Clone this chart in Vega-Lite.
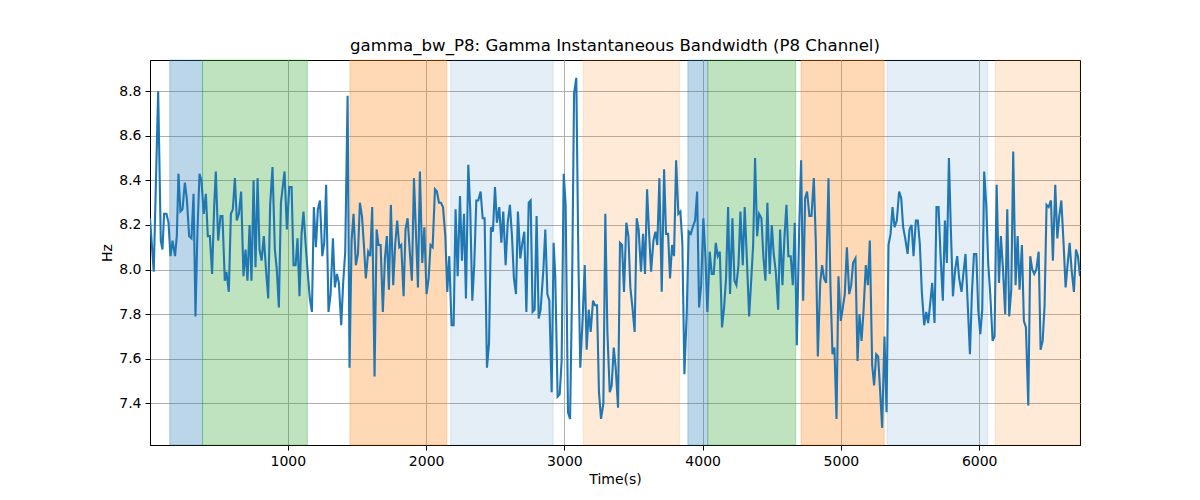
{
  "$schema": "https://vega.github.io/schema/vega-lite/v6.json",
  "width": 930,
  "height": 385,
  "autosize": {"type": "none"},
  "padding": {"left": 150, "top": 60, "right": 120, "bottom": 55},
  "background": "white",
  "config": {
    "font": "DejaVu Sans",
    "view": {"stroke": "black", "strokeWidth": 1},
    "axis": {
      "labelFont": "DejaVu Sans",
      "labelFontSize": 14,
      "labelColor": "black",
      "titleFont": "DejaVu Sans",
      "titleFontSize": 14,
      "titleFontWeight": "normal",
      "titleColor": "black",
      "tickColor": "black",
      "tickSize": 5,
      "tickWidth": 1,
      "domainColor": "black",
      "domainWidth": 1,
      "gridColor": "#b0b0b0",
      "gridWidth": 1,
      "labelPadding": 4
    }
  },
  "title": {
    "text": "gamma_bw_P8: Gamma Instantaneous Bandwidth (P8 Channel)",
    "font": "DejaVu Sans",
    "fontSize": 16.6,
    "fontWeight": "normal",
    "color": "black",
    "anchor": "middle",
    "offset": 5
  },
  "datasets": {
    "bands": [
      {"start": 146, "end": 383, "phase": "1"},
      {"start": 383, "end": 1141, "phase": "2"},
      {"start": 1449, "end": 2149, "phase": "3"},
      {"start": 2178, "end": 2919, "phase": "4"},
      {"start": 3136, "end": 3832, "phase": "5"},
      {"start": 3893, "end": 4037, "phase": "1"},
      {"start": 4037, "end": 4673, "phase": "2"},
      {"start": 4712, "end": 5313, "phase": "3"},
      {"start": 5333, "end": 6062, "phase": "4"},
      {"start": 6116, "end": 6729, "phase": "5"}
    ],
    "series": [
      {"t": 3, "hz": 8.23}, {"t": 30, "hz": 7.99}, {"t": 62, "hz": 8.8}, {"t": 81, "hz": 8.13},
      {"t": 93, "hz": 8.09}, {"t": 105, "hz": 8.25}, {"t": 122, "hz": 8.25}, {"t": 137, "hz": 8.21},
      {"t": 151, "hz": 8.06}, {"t": 166, "hz": 8.13}, {"t": 184, "hz": 8.06}, {"t": 197, "hz": 8.15},
      {"t": 209, "hz": 8.43}, {"t": 223, "hz": 8.26}, {"t": 238, "hz": 8.27}, {"t": 255, "hz": 8.39},
      {"t": 269, "hz": 8.32}, {"t": 286, "hz": 8.15}, {"t": 303, "hz": 8.14}, {"t": 318, "hz": 8.34},
      {"t": 332, "hz": 7.79}, {"t": 346, "hz": 8.17}, {"t": 361, "hz": 8.43}, {"t": 375, "hz": 8.4},
      {"t": 392, "hz": 8.25}, {"t": 407, "hz": 8.34}, {"t": 421, "hz": 8.15}, {"t": 436, "hz": 8.15},
      {"t": 452, "hz": 7.98}, {"t": 467, "hz": 8.28}, {"t": 479, "hz": 8.44}, {"t": 496, "hz": 8.13},
      {"t": 513, "hz": 8.24}, {"t": 527, "hz": 8.24}, {"t": 544, "hz": 7.95}, {"t": 556, "hz": 7.99},
      {"t": 573, "hz": 7.9}, {"t": 588, "hz": 8.25}, {"t": 602, "hz": 8.27}, {"t": 617, "hz": 8.41},
      {"t": 631, "hz": 8.22}, {"t": 646, "hz": 8.25}, {"t": 662, "hz": 8.35}, {"t": 679, "hz": 7.97},
      {"t": 694, "hz": 8.09}, {"t": 708, "hz": 7.95}, {"t": 723, "hz": 8.2}, {"t": 737, "hz": 7.95},
      {"t": 752, "hz": 8.4}, {"t": 766, "hz": 8.01}, {"t": 781, "hz": 8.41}, {"t": 795, "hz": 8.09},
      {"t": 810, "hz": 8.04}, {"t": 826, "hz": 8.15}, {"t": 843, "hz": 7.99}, {"t": 858, "hz": 7.87},
      {"t": 872, "hz": 8.29}, {"t": 889, "hz": 8.46}, {"t": 906, "hz": 8.09}, {"t": 920, "hz": 8.0},
      {"t": 935, "hz": 7.83}, {"t": 950, "hz": 8.3}, {"t": 976, "hz": 8.44}, {"t": 993, "hz": 8.18},
      {"t": 1010, "hz": 8.37}, {"t": 1027, "hz": 8.37}, {"t": 1041, "hz": 8.02}, {"t": 1056, "hz": 8.02},
      {"t": 1070, "hz": 8.14}, {"t": 1084, "hz": 7.88}, {"t": 1099, "hz": 8.16}, {"t": 1113, "hz": 8.26},
      {"t": 1128, "hz": 8.12}, {"t": 1142, "hz": 8.0}, {"t": 1159, "hz": 7.87}, {"t": 1174, "hz": 7.81},
      {"t": 1188, "hz": 8.28}, {"t": 1203, "hz": 8.1}, {"t": 1217, "hz": 8.27}, {"t": 1232, "hz": 8.31},
      {"t": 1249, "hz": 8.06}, {"t": 1263, "hz": 8.12}, {"t": 1277, "hz": 8.38}, {"t": 1294, "hz": 7.81},
      {"t": 1309, "hz": 7.89}, {"t": 1326, "hz": 8.14}, {"t": 1340, "hz": 7.92}, {"t": 1355, "hz": 7.98},
      {"t": 1369, "hz": 7.94}, {"t": 1386, "hz": 7.75}, {"t": 1400, "hz": 7.94}, {"t": 1415, "hz": 8.08},
      {"t": 1432, "hz": 8.78}, {"t": 1446, "hz": 7.56}, {"t": 1461, "hz": 8.13}, {"t": 1475, "hz": 8.25},
      {"t": 1492, "hz": 8.02}, {"t": 1507, "hz": 8.07}, {"t": 1521, "hz": 8.3}, {"t": 1536, "hz": 8.24},
      {"t": 1550, "hz": 8.11}, {"t": 1564, "hz": 7.96}, {"t": 1581, "hz": 8.08}, {"t": 1596, "hz": 8.06},
      {"t": 1610, "hz": 8.28}, {"t": 1627, "hz": 7.52}, {"t": 1642, "hz": 8.18}, {"t": 1656, "hz": 8.11},
      {"t": 1671, "hz": 8.11}, {"t": 1687, "hz": 7.81}, {"t": 1702, "hz": 8.05}, {"t": 1716, "hz": 8.15},
      {"t": 1731, "hz": 7.91}, {"t": 1745, "hz": 8.29}, {"t": 1762, "hz": 7.93}, {"t": 1777, "hz": 8.12},
      {"t": 1791, "hz": 8.22}, {"t": 1806, "hz": 8.1}, {"t": 1820, "hz": 8.11}, {"t": 1837, "hz": 7.88},
      {"t": 1851, "hz": 8.18}, {"t": 1866, "hz": 8.23}, {"t": 1883, "hz": 8.07}, {"t": 1897, "hz": 7.95},
      {"t": 1912, "hz": 8.41}, {"t": 1941, "hz": 7.92}, {"t": 1955, "hz": 8.44}, {"t": 1972, "hz": 8.03},
      {"t": 1987, "hz": 8.19}, {"t": 2003, "hz": 7.89}, {"t": 2018, "hz": 7.96}, {"t": 2032, "hz": 8.11},
      {"t": 2047, "hz": 8.1}, {"t": 2064, "hz": 8.36}, {"t": 2078, "hz": 8.35}, {"t": 2093, "hz": 8.3},
      {"t": 2107, "hz": 8.3}, {"t": 2122, "hz": 8.28}, {"t": 2139, "hz": 8.15}, {"t": 2153, "hz": 7.9},
      {"t": 2167, "hz": 8.06}, {"t": 2184, "hz": 7.75}, {"t": 2199, "hz": 7.75}, {"t": 2213, "hz": 8.27},
      {"t": 2228, "hz": 7.97}, {"t": 2245, "hz": 8.33}, {"t": 2259, "hz": 8.04}, {"t": 2274, "hz": 8.25},
      {"t": 2288, "hz": 7.87}, {"t": 2305, "hz": 8.47}, {"t": 2319, "hz": 8.27}, {"t": 2334, "hz": 7.86},
      {"t": 2348, "hz": 8.02}, {"t": 2363, "hz": 8.31}, {"t": 2377, "hz": 8.31}, {"t": 2394, "hz": 8.35},
      {"t": 2409, "hz": 8.23}, {"t": 2423, "hz": 8.23}, {"t": 2440, "hz": 7.56}, {"t": 2455, "hz": 7.67},
      {"t": 2469, "hz": 8.19}, {"t": 2483, "hz": 8.17}, {"t": 2498, "hz": 8.37}, {"t": 2512, "hz": 8.21},
      {"t": 2529, "hz": 8.28}, {"t": 2544, "hz": 8.12}, {"t": 2558, "hz": 8.26}, {"t": 2575, "hz": 8.02},
      {"t": 2590, "hz": 8.21}, {"t": 2606, "hz": 8.29}, {"t": 2621, "hz": 8.15}, {"t": 2635, "hz": 7.96},
      {"t": 2650, "hz": 7.89}, {"t": 2664, "hz": 8.26}, {"t": 2681, "hz": 8.05}, {"t": 2696, "hz": 8.12},
      {"t": 2710, "hz": 8.17}, {"t": 2725, "hz": 7.81}, {"t": 2742, "hz": 8.3}, {"t": 2756, "hz": 8.31},
      {"t": 2770, "hz": 7.81}, {"t": 2785, "hz": 7.82}, {"t": 2799, "hz": 8.24}, {"t": 2814, "hz": 7.78},
      {"t": 2828, "hz": 7.82}, {"t": 2848, "hz": 8.0}, {"t": 2862, "hz": 8.18}, {"t": 2877, "hz": 7.89},
      {"t": 2891, "hz": 7.86}, {"t": 2908, "hz": 7.45}, {"t": 2922, "hz": 8.12}, {"t": 2934, "hz": 7.97},
      {"t": 2951, "hz": 7.43}, {"t": 2966, "hz": 7.44}, {"t": 2980, "hz": 7.59}, {"t": 2995, "hz": 8.43},
      {"t": 3009, "hz": 8.29}, {"t": 3026, "hz": 7.36}, {"t": 3041, "hz": 7.33}, {"t": 3055, "hz": 7.89},
      {"t": 3070, "hz": 8.79}, {"t": 3086, "hz": 8.86}, {"t": 3101, "hz": 8.05}, {"t": 3115, "hz": 7.56},
      {"t": 3132, "hz": 7.78}, {"t": 3147, "hz": 8.02}, {"t": 3161, "hz": 7.64}, {"t": 3176, "hz": 7.82},
      {"t": 3190, "hz": 7.72}, {"t": 3207, "hz": 7.86}, {"t": 3221, "hz": 7.84}, {"t": 3236, "hz": 7.84},
      {"t": 3250, "hz": 7.45}, {"t": 3265, "hz": 7.33}, {"t": 3282, "hz": 7.4}, {"t": 3296, "hz": 8.25},
      {"t": 3311, "hz": 7.72}, {"t": 3328, "hz": 7.45}, {"t": 3342, "hz": 7.48}, {"t": 3357, "hz": 7.65},
      {"t": 3371, "hz": 7.56}, {"t": 3388, "hz": 7.38}, {"t": 3402, "hz": 8.12}, {"t": 3417, "hz": 8.11},
      {"t": 3431, "hz": 7.9}, {"t": 3448, "hz": 8.21}, {"t": 3463, "hz": 8.15}, {"t": 3477, "hz": 7.92},
      {"t": 3492, "hz": 7.83}, {"t": 3508, "hz": 7.72}, {"t": 3523, "hz": 8.23}, {"t": 3537, "hz": 8.18},
      {"t": 3554, "hz": 7.99}, {"t": 3569, "hz": 8.16}, {"t": 3583, "hz": 7.98}, {"t": 3598, "hz": 8.36},
      {"t": 3612, "hz": 8.17}, {"t": 3627, "hz": 7.99}, {"t": 3644, "hz": 8.13}, {"t": 3658, "hz": 8.17},
      {"t": 3672, "hz": 8.11}, {"t": 3687, "hz": 8.41}, {"t": 3704, "hz": 7.9}, {"t": 3721, "hz": 8.45},
      {"t": 3735, "hz": 8.16}, {"t": 3750, "hz": 8.16}, {"t": 3764, "hz": 7.96}, {"t": 3779, "hz": 8.11},
      {"t": 3793, "hz": 8.06}, {"t": 3808, "hz": 8.49}, {"t": 3824, "hz": 8.25}, {"t": 3839, "hz": 8.26},
      {"t": 3853, "hz": 8.12}, {"t": 3868, "hz": 7.53}, {"t": 3885, "hz": 7.81}, {"t": 3899, "hz": 8.17},
      {"t": 3914, "hz": 8.16}, {"t": 3928, "hz": 8.19}, {"t": 3945, "hz": 8.22}, {"t": 3960, "hz": 8.35},
      {"t": 3974, "hz": 7.83}, {"t": 3989, "hz": 7.93}, {"t": 4005, "hz": 8.23}, {"t": 4020, "hz": 8.06},
      {"t": 4034, "hz": 7.81}, {"t": 4051, "hz": 8.08}, {"t": 4066, "hz": 7.98}, {"t": 4080, "hz": 7.98},
      {"t": 4095, "hz": 8.12}, {"t": 4109, "hz": 8.06}, {"t": 4124, "hz": 8.08}, {"t": 4140, "hz": 7.74},
      {"t": 4155, "hz": 7.83}, {"t": 4169, "hz": 7.96}, {"t": 4184, "hz": 8.28}, {"t": 4198, "hz": 7.89},
      {"t": 4215, "hz": 8.23}, {"t": 4230, "hz": 7.95}, {"t": 4244, "hz": 7.93}, {"t": 4259, "hz": 8.02},
      {"t": 4273, "hz": 8.26}, {"t": 4290, "hz": 8.02}, {"t": 4304, "hz": 8.28}, {"t": 4319, "hz": 8.06},
      {"t": 4336, "hz": 7.79}, {"t": 4350, "hz": 7.94}, {"t": 4365, "hz": 8.11}, {"t": 4379, "hz": 8.5},
      {"t": 4394, "hz": 8.15}, {"t": 4408, "hz": 8.25}, {"t": 4425, "hz": 8.23}, {"t": 4440, "hz": 8.05},
      {"t": 4454, "hz": 7.95}, {"t": 4468, "hz": 8.3}, {"t": 4485, "hz": 7.98}, {"t": 4500, "hz": 8.2},
      {"t": 4514, "hz": 8.07}, {"t": 4529, "hz": 7.99}, {"t": 4546, "hz": 7.82}, {"t": 4560, "hz": 8.18},
      {"t": 4577, "hz": 7.93}, {"t": 4591, "hz": 8.14}, {"t": 4606, "hz": 8.29}, {"t": 4620, "hz": 8.06},
      {"t": 4637, "hz": 8.06}, {"t": 4652, "hz": 7.93}, {"t": 4666, "hz": 8.21}, {"t": 4681, "hz": 7.66},
      {"t": 4698, "hz": 8.18}, {"t": 4712, "hz": 8.49}, {"t": 4727, "hz": 7.86}, {"t": 4741, "hz": 8.32},
      {"t": 4755, "hz": 8.35}, {"t": 4772, "hz": 8.24}, {"t": 4787, "hz": 8.24}, {"t": 4804, "hz": 8.41},
      {"t": 4818, "hz": 8.13}, {"t": 4833, "hz": 7.61}, {"t": 4850, "hz": 7.94}, {"t": 4864, "hz": 8.02},
      {"t": 4878, "hz": 7.96}, {"t": 4893, "hz": 7.94}, {"t": 4910, "hz": 8.41}, {"t": 4924, "hz": 7.93},
      {"t": 4939, "hz": 7.62}, {"t": 4953, "hz": 7.65}, {"t": 4968, "hz": 7.33}, {"t": 4982, "hz": 7.97},
      {"t": 4999, "hz": 7.77}, {"t": 5014, "hz": 7.83}, {"t": 5028, "hz": 7.89}, {"t": 5043, "hz": 8.1},
      {"t": 5060, "hz": 7.89}, {"t": 5074, "hz": 7.93}, {"t": 5088, "hz": 8.03}, {"t": 5105, "hz": 8.05},
      {"t": 5120, "hz": 7.59}, {"t": 5134, "hz": 7.8}, {"t": 5149, "hz": 7.68}, {"t": 5163, "hz": 7.81},
      {"t": 5180, "hz": 8.02}, {"t": 5195, "hz": 7.93}, {"t": 5209, "hz": 8.13}, {"t": 5226, "hz": 7.57},
      {"t": 5240, "hz": 7.48}, {"t": 5255, "hz": 7.62}, {"t": 5269, "hz": 7.61}, {"t": 5284, "hz": 7.45},
      {"t": 5298, "hz": 7.29}, {"t": 5315, "hz": 7.7}, {"t": 5330, "hz": 7.36}, {"t": 5344, "hz": 8.11},
      {"t": 5359, "hz": 8.16}, {"t": 5373, "hz": 8.28}, {"t": 5388, "hz": 8.19}, {"t": 5404, "hz": 8.22},
      {"t": 5421, "hz": 8.35}, {"t": 5436, "hz": 8.32}, {"t": 5450, "hz": 8.19}, {"t": 5465, "hz": 8.14},
      {"t": 5482, "hz": 8.07}, {"t": 5496, "hz": 8.18}, {"t": 5511, "hz": 8.2}, {"t": 5525, "hz": 8.06},
      {"t": 5542, "hz": 8.22}, {"t": 5556, "hz": 8.22}, {"t": 5571, "hz": 8.11}, {"t": 5585, "hz": 7.9},
      {"t": 5602, "hz": 7.75}, {"t": 5617, "hz": 7.81}, {"t": 5631, "hz": 7.76}, {"t": 5646, "hz": 7.85},
      {"t": 5660, "hz": 7.94}, {"t": 5677, "hz": 7.76}, {"t": 5691, "hz": 8.28}, {"t": 5706, "hz": 8.28},
      {"t": 5720, "hz": 8.07}, {"t": 5737, "hz": 7.86}, {"t": 5752, "hz": 8.22}, {"t": 5766, "hz": 8.03},
      {"t": 5781, "hz": 8.5}, {"t": 5795, "hz": 8.18}, {"t": 5810, "hz": 7.88}, {"t": 5826, "hz": 8.0},
      {"t": 5841, "hz": 8.06}, {"t": 5855, "hz": 7.96}, {"t": 5872, "hz": 7.9}, {"t": 5887, "hz": 7.99},
      {"t": 5901, "hz": 8.07}, {"t": 5918, "hz": 7.83}, {"t": 5933, "hz": 7.62}, {"t": 5947, "hz": 7.89},
      {"t": 5962, "hz": 8.07}, {"t": 5979, "hz": 8.07}, {"t": 5993, "hz": 7.82}, {"t": 6008, "hz": 7.71},
      {"t": 6022, "hz": 7.82}, {"t": 6036, "hz": 8.44}, {"t": 6051, "hz": 8.29}, {"t": 6065, "hz": 8.03},
      {"t": 6080, "hz": 7.89}, {"t": 6097, "hz": 7.68}, {"t": 6111, "hz": 7.7}, {"t": 6126, "hz": 8.38},
      {"t": 6143, "hz": 7.94}, {"t": 6157, "hz": 8.15}, {"t": 6172, "hz": 8.0}, {"t": 6188, "hz": 7.8},
      {"t": 6203, "hz": 8.27}, {"t": 6217, "hz": 7.79}, {"t": 6232, "hz": 7.91}, {"t": 6246, "hz": 8.53},
      {"t": 6263, "hz": 7.93}, {"t": 6278, "hz": 8.15}, {"t": 6292, "hz": 7.91}, {"t": 6309, "hz": 8.11},
      {"t": 6323, "hz": 7.77}, {"t": 6338, "hz": 7.74}, {"t": 6355, "hz": 7.39}, {"t": 6369, "hz": 8.06},
      {"t": 6384, "hz": 8.0}, {"t": 6398, "hz": 7.98}, {"t": 6413, "hz": 8.0}, {"t": 6430, "hz": 8.08},
      {"t": 6444, "hz": 7.64}, {"t": 6459, "hz": 7.68}, {"t": 6473, "hz": 7.84}, {"t": 6487, "hz": 8.29},
      {"t": 6502, "hz": 8.28}, {"t": 6519, "hz": 8.31}, {"t": 6533, "hz": 8.04}, {"t": 6550, "hz": 8.38},
      {"t": 6565, "hz": 8.14}, {"t": 6579, "hz": 8.24}, {"t": 6594, "hz": 8.31}, {"t": 6610, "hz": 8.12},
      {"t": 6625, "hz": 7.92}, {"t": 6639, "hz": 8.02}, {"t": 6654, "hz": 8.12}, {"t": 6668, "hz": 8.0},
      {"t": 6685, "hz": 7.9}, {"t": 6700, "hz": 8.09}, {"t": 6714, "hz": 8.06}, {"t": 6729, "hz": 7.97}
    ]
  },
  "layer": [
    {
      "data": {"name": "bands"},
      "mark": {"type": "rect", "strokeWidth": 1},
      "encoding": {
        "x": {
          "field": "start",
          "type": "quantitative",
          "scale": {"domain": [3, 6729], "nice": false, "zero": false},
          "axis": {"title": "Time(s)", "values": [1000, 2000, 3000, 4000, 5000, 6000], "format": "d", "grid": true}
        },
        "x2": {"field": "end"},
        "fill": {
          "field": "phase",
          "type": "nominal",
          "scale": {
            "domain": ["1", "2", "3", "4", "5"],
            "range": ["rgba(31,119,180,0.3)", "rgba(44,160,44,0.3)", "rgba(255,127,14,0.3)", "rgba(31,119,180,0.12)", "rgba(255,127,14,0.16)"]
          },
          "legend": null
        },
        "stroke": {
          "field": "phase",
          "type": "nominal",
          "scale": {
            "domain": ["1", "2", "3", "4", "5"],
            "range": ["rgba(31,119,180,0.3)", "rgba(44,160,44,0.3)", "rgba(255,127,14,0.3)", "rgba(31,119,180,0.12)", "rgba(255,127,14,0.16)"]
          },
          "legend": null
        }
      }
    },
    {
      "data": {"name": "series"},
      "mark": {"type": "line", "color": "#1f77b4", "strokeWidth": 2.1, "clip": true},
      "encoding": {
        "x": {
          "field": "t",
          "type": "quantitative",
          "axis": {"title": "Time(s)", "values": [1000, 2000, 3000, 4000, 5000, 6000], "format": "d", "grid": true}
        },
        "y": {
          "field": "hz",
          "type": "quantitative",
          "scale": {"domain": [7.213, 8.94], "nice": false, "zero": false},
          "axis": {"title": "Hz", "values": [7.4, 7.6, 7.8, 8.0, 8.2, 8.4, 8.6, 8.8], "format": ".1f", "grid": true}
        }
      }
    }
  ]
}
